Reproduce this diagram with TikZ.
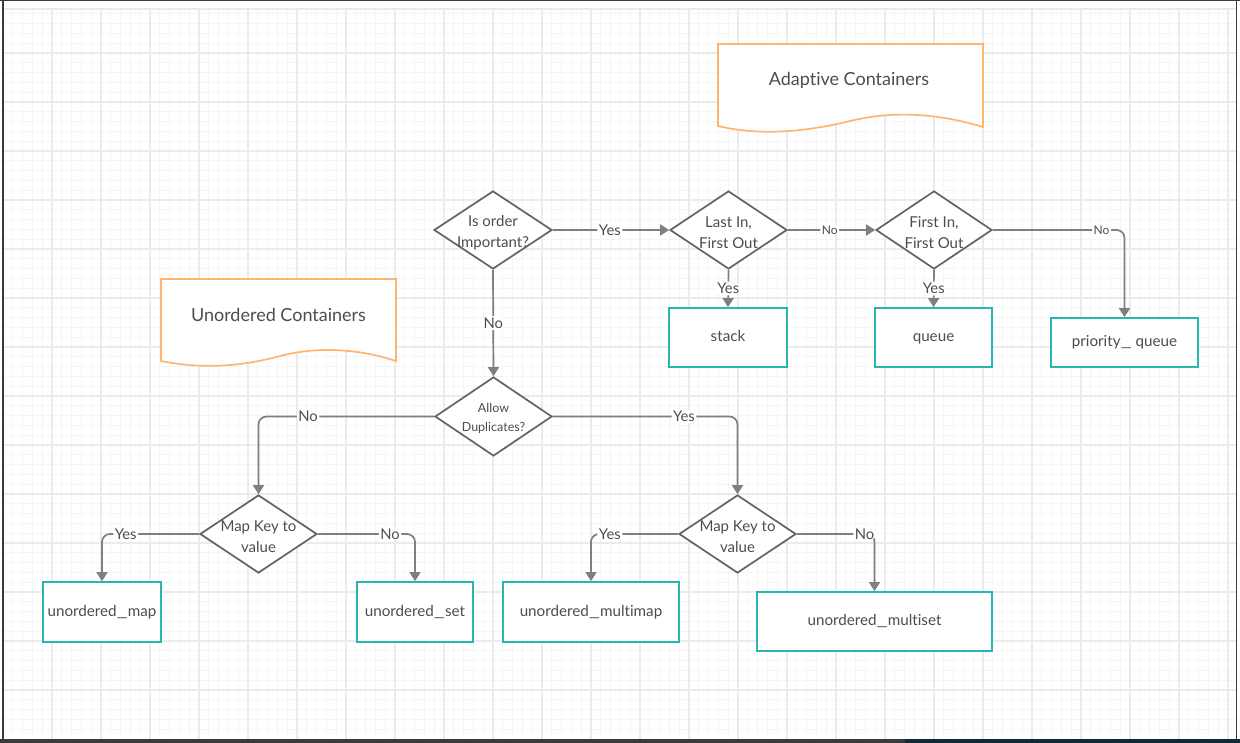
\documentclass[tikz,border=0pt]{standalone}
\usepackage{fontspec}
\usepackage{graphicx}
\setmainfont{Lato}[Ligatures=NoCommon]
\usetikzlibrary{shapes.geometric,arrows.meta}
\definecolor{txt}{HTML}{4D4D4D}
\definecolor{edge}{HTML}{7F7F7F}
\definecolor{dia}{HTML}{636363}
\definecolor{teal}{HTML}{2BB5B0}
\definecolor{orng}{HTML}{FFB570}
\definecolor{gmaj}{HTML}{EBEBEB}
\definecolor{gmin}{HTML}{F5F5F5}
\definecolor{frame}{HTML}{3A3A3A}
\definecolor{band}{HTML}{0E2C36}
\newcommand{\wus}{\scalebox{1.6}[1]{\_}}
\tikzset{
  fs/.style={font=\fontsize{#1}{21}\selectfont},
  dshape/.style={shape=diamond, draw=dia, line width=1.7pt, fill=white, inner sep=0pt, minimum width=#1, minimum height=78pt},
  dtext/.style={text=txt, align=center, fs=15, inner sep=0pt, yshift=-2.5pt},
  box/.style={draw=teal, line width=1.7pt, fill=white, text=txt, fs=15.2, inner sep=0pt, text height=0.8em, text depth=0pt},
  conn/.style={draw=edge, line width=1.7pt, -{Triangle[width=11pt,length=9pt]}, rounded corners=8pt},
  lbl/.style={fill=white, text=txt, inner sep=1.5pt, fs=14.8},
  slbl/.style={fill=white, text=txt, inner sep=1.5pt, fs=12},
  doc/.style={draw=orng, line width=1.7pt, fill=white},
}
\begin{document}
\begin{tikzpicture}[x=1pt,y=-1pt]
\useasboundingbox (0,0) rectangle (1240,743);
\fill[white] (0,0) rectangle (1240,743);
% grid
\foreach \k [evaluate=\k as \xx using 3+9.8*\k] in {0,...,125}
  \draw[gmin, line width=0.9pt] (\xx,9) -- (\xx,739);
\foreach \k [evaluate=\k as \yy using 53+9.8*\k] in {-4,...,69}
  \draw[gmin, line width=0.9pt] (3,\yy) -- (1236,\yy);
\foreach \k [evaluate=\k as \xx using 3+49*\k] in {1,...,25}
  \draw[gmaj, line width=1.3pt] (\xx,9) -- (\xx,739);
\foreach \k [evaluate=\k as \yy using 53+49*\k] in {0,...,13}
  \draw[gmaj, line width=1.3pt] (3,\yy) -- (1236,\yy);
\draw[gmaj, line width=1.3pt] (3,9) -- (1236,9);
% frame
\fill[frame] (0,0) rectangle (1240,1.2);
\fill[frame] (2,0) rectangle (3.6,739);
\fill[frame] (1235.8,0) rectangle (1237.4,739);
\fill[frame] (0,739) rectangle (905,743);
\fill[band] (905,739) rectangle (1240,743);

% document shapes
\draw[doc] (718,44) -- (983,44) -- (983,127)
  .. controls (940,114) and (895,110) .. (850,121)
  .. controls (805,132) and (760,136) .. (718,126) -- cycle;
\node[text=txt, fs=18, inner sep=0pt] (adapt) at (849,80) {Adaptive Containers};
\draw[doc] (161,279) -- (396,279) -- (396,361)
  .. controls (360,349) and (318,346) .. (280,356)
  .. controls (240,367) and (200,369) .. (161,361) -- cycle;
\node[text=txt, fs=18, inner sep=0pt] (unord) at (278.5,315) {Unordered Containers};

% diamonds
\node[dshape=118pt] (q1) at (493,230) {};
\node[dtext] at (q1) {Is order\\Important?};
\node[dshape=117pt] (lf) at (728.5,230) {};
\node[dtext] at (lf) {Last In,\\First Out};
\node[dshape=116pt] (fq) at (934,230) {};
\node[dtext] at (fq) {First In,\\First Out};
\node[dshape=117pt, minimum height=79pt] (ad) at (493.5,416.5) {};
\node[dtext, font=\fontsize{12.5}{19}\selectfont, yshift=1pt] at (ad) {Allow\\Duplicates?};
\node[dshape=117pt] (mk1) at (258.5,534) {};
\node[dtext] at (mk1) {Map Key to\\value};
\node[dshape=117pt] (mk2) at (737.5,534) {};
\node[dtext] at (mk2) {Map Key to\\value};

% boxes
\node[box, minimum width=118pt, minimum height=59pt] (stack) at (728,337.5) {stack};
\node[box, minimum width=117pt, minimum height=59pt] (queue) at (933.5,337.5) {queue};
\node[box, minimum width=147pt, minimum height=49pt] (pq) at (1124.5,342.5) {priority\wus{} queue};
\node[box, minimum width=118pt, minimum height=60pt] (umap) at (102,612) {unordered\wus map};
\node[box, minimum width=116pt, minimum height=60pt] (uset) at (415,612) {unordered\wus set};
\node[box, minimum width=176pt, minimum height=60pt] (ummap) at (591,612) {unordered\wus multimap};
\node[box, minimum width=235pt, minimum height=59pt] (umset) at (874.5,621.5) {unordered\wus multiset};

% connectors
\draw[conn] (q1.east) -- node[lbl, pos=0.49] {Yes} (lf.west);
\draw[conn] (q1.south) -- node[lbl, pos=0.5] {No} (ad.north);
\draw[conn] (lf.south) -- node[lbl, pos=0.5] {Yes} (stack.north);
\draw[conn] (lf.east) -- node[slbl, pos=0.48] {No} (fq.west);
\draw[conn] (fq.south) -- node[lbl, pos=0.5] {Yes} (queue.north);
\draw[conn] (fq.east) -| node[slbl, pos=0.413] {No} (pq.north);
\draw[conn] (ad.west) -| node[lbl, pos=0.359] {No} (mk1.north);
\draw[conn] (ad.east) -| node[lbl, pos=0.355] {Yes} (mk2.north);
\draw[conn] (mk1.west) -| node[lbl, pos=0.378] {Yes} (umap.north);
\draw[conn] (mk1.east) -| node[lbl, pos=0.372] {No} (uset.north);
\draw[conn] (mk2.west) -| node[lbl, pos=0.392] {Yes} (ummap.north);
\draw[conn] (mk2.east) -| node[lbl, pos=0.436] {No} (umset.north);
\end{tikzpicture}
\end{document}
